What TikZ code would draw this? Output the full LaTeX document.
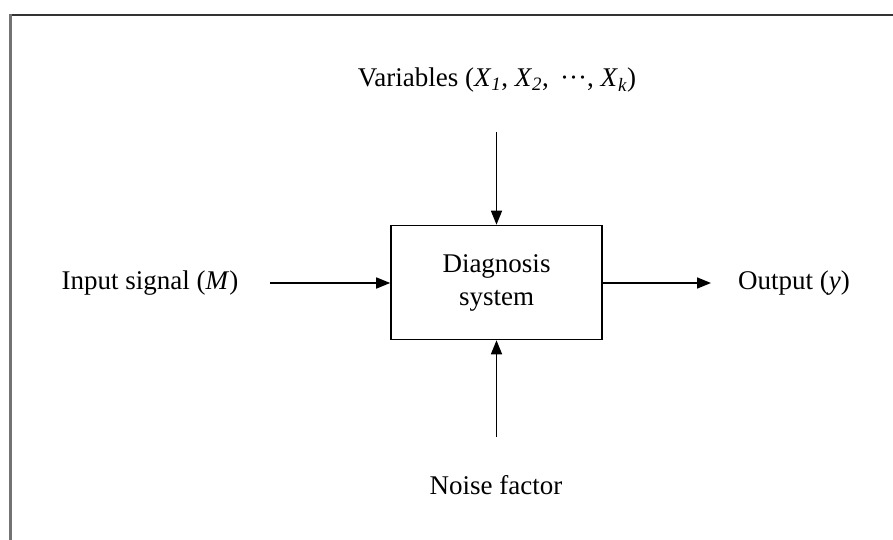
\documentclass[tikz,border=0pt]{standalone}
\usepackage{fontspec}
\setmainfont{Liberation Serif}
\usetikzlibrary{arrows.meta}
\begin{document}
\begin{tikzpicture}[x=1pt,y=-1pt,
  lbl/.style={font=\fontsize{27}{31}\selectfont, inner sep=0pt},
  tip/.style={-{Triangle[length=14pt,width=11pt]}},
  flow/.style={line width=1.6pt, tip}]
  \useasboundingbox (0,0) rectangle (893,540);
  \fill[white] (0,0) rectangle (893,540);
  % frame edges
  \draw[line width=2.5pt, color=black!80] (9,15) -- (893,15);
  \draw[line width=3pt, color=black!55] (10.5,14) -- (10.5,540);
  % central block
  \node[draw, line width=1.6pt, minimum width=211pt, minimum height=114pt,
        inner sep=0pt, align=center, font=\fontsize{27}{33}\selectfont]
        (sys) at (496.5,282.5) {Diagnosis\\system};
  % labels
  \node[lbl] (vars) at (497,80) {Variables (\textit{X}\textsubscript{\textit{1}}, \textit{X}\textsubscript{\textit{2}}, \,···, \textit{X}\textsubscript{\textit{k}})};
  \node[lbl] (inp) at (150,283) {Input signal (\textit{M})};
  \node[lbl] (out) at (794,283) {Output (\textit{y})};
  \node[lbl] (noise) at (496,485) {Noise factor};
  % connector ends
  \coordinate (vtop) at (496.5,132);
  \coordinate (nbot) at (496.5,437);
  \coordinate (ileft) at (270,283);
  \coordinate (oright) at (711,283);
  % connectors
  \draw[flow] (vtop) -- (sys.north);
  \draw[flow] (nbot) -- (sys.south);
  \draw[flow] (ileft) -- (sys.west |- ileft);
  \draw[flow] (sys.east |- oright) -- (oright);
\end{tikzpicture}
\end{document}
